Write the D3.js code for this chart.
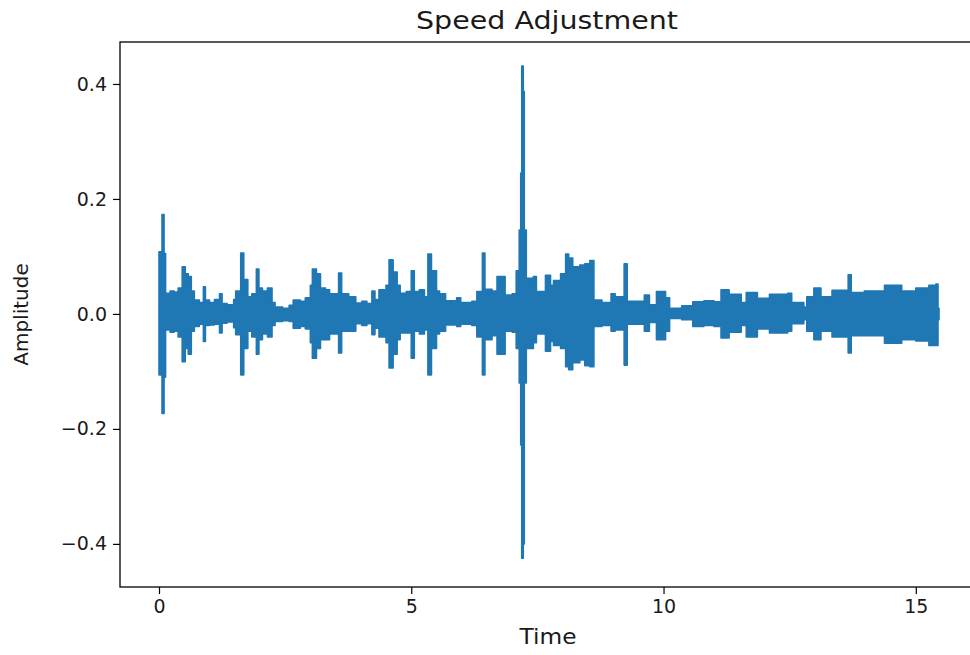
<!DOCTYPE html>
<html>
<head>
<meta charset="utf-8">
<script src="https://cdn.jsdelivr.net/npm/d3@7/dist/d3.min.js"></script>
<style>
  html, body { margin: 0; padding: 0; background: #fff; }
  svg text { font-family: "DejaVu Sans", sans-serif; fill: #1a1a1a; }
</style>
</head>
<body>
<svg id="chart" width="970" height="655"></svg>
<script>
// ---- Data (envelope of the waveform; step-after segments) ----
const times = [0.00,0.06,0.10,0.13,0.22,0.30,0.38,0.46,0.52,0.58,0.64,0.70,0.80,0.88,0.92,1.00,1.10,1.20,1.25,1.35,1.48,1.52,1.62,1.68,1.76,1.84,1.93,1.98,2.05,2.15,2.24,2.30,2.45,2.58,2.66,2.80,2.90,3.00,3.04,3.12,3.20,3.30,3.38,3.56,3.62,3.76,3.90,4.02,4.12,4.22,4.28,4.36,4.50,4.56,4.64,4.72,4.78,4.90,5.00,5.06,5.16,5.26,5.33,5.40,5.50,5.56,5.68,5.90,5.98,6.20,6.30,6.41,6.46,6.60,6.70,6.86,7.00,7.08,7.14,7.17,7.19,7.22,7.24,7.28,7.42,7.48,7.66,7.76,7.82,7.96,8.06,8.12,8.20,8.34,8.44,8.54,8.62,8.78,8.96,9.04,9.22,9.28,9.62,9.72,9.86,10.04,10.12,10.36,10.58,10.80,11.00,11.14,11.30,11.54,11.64,11.86,12.10,12.46,12.54,12.78,12.84,12.98,13.12,13.34,13.66,13.72,13.98,14.38,14.72,15.00,15.26,15.40,15.44,15.46];
const upper = [0.108,0.173,0.105,0.036,0.040,0.038,0.045,0.082,0.070,0.065,0.040,0.024,0.020,0.047,0.024,0.020,0.025,0.035,0.018,0.016,0.025,0.040,0.106,0.060,0.030,0.035,0.078,0.045,0.040,0.045,0.020,0.012,0.010,0.015,0.024,0.022,0.028,0.050,0.078,0.070,0.045,0.042,0.035,0.071,0.035,0.030,0.019,0.022,0.018,0.040,0.025,0.042,0.050,0.094,0.073,0.050,0.036,0.039,0.075,0.039,0.042,0.030,0.104,0.075,0.040,0.035,0.023,0.028,0.020,0.022,0.039,0.106,0.043,0.040,0.065,0.033,0.035,0.075,0.146,0.245,0.431,0.387,0.146,0.062,0.065,0.039,0.067,0.050,0.058,0.070,0.104,0.097,0.082,0.085,0.087,0.093,0.024,0.020,0.035,0.030,0.087,0.022,0.033,0.016,0.039,0.028,0.010,0.014,0.021,0.023,0.021,0.042,0.034,0.020,0.037,0.027,0.034,0.036,0.020,0.012,0.030,0.045,0.030,0.041,0.068,0.037,0.040,0.050,0.040,0.045,0.050,0.052,0.010,0.000];
const lower = [-0.106,-0.173,-0.110,-0.028,-0.032,-0.030,-0.040,-0.083,-0.060,-0.070,-0.030,-0.022,-0.018,-0.048,-0.020,-0.019,-0.018,-0.033,-0.016,-0.014,-0.024,-0.036,-0.106,-0.060,-0.030,-0.040,-0.070,-0.045,-0.035,-0.040,-0.020,-0.013,-0.012,-0.013,-0.025,-0.022,-0.026,-0.050,-0.077,-0.060,-0.045,-0.045,-0.035,-0.068,-0.030,-0.030,-0.017,-0.020,-0.017,-0.036,-0.025,-0.040,-0.050,-0.094,-0.070,-0.045,-0.033,-0.033,-0.077,-0.030,-0.035,-0.028,-0.106,-0.060,-0.035,-0.030,-0.019,-0.022,-0.018,-0.020,-0.040,-0.106,-0.045,-0.038,-0.070,-0.030,-0.032,-0.060,-0.120,-0.228,-0.425,-0.400,-0.120,-0.060,-0.050,-0.035,-0.065,-0.048,-0.055,-0.060,-0.092,-0.097,-0.085,-0.080,-0.090,-0.092,-0.022,-0.020,-0.030,-0.028,-0.089,-0.018,-0.030,-0.015,-0.045,-0.030,-0.008,-0.010,-0.022,-0.020,-0.022,-0.042,-0.032,-0.020,-0.040,-0.026,-0.033,-0.030,-0.017,-0.010,-0.030,-0.045,-0.030,-0.040,-0.068,-0.038,-0.038,-0.051,-0.045,-0.047,-0.055,-0.055,-0.010,0.000];
const xTicks = [0, 5, 10, 15];
const yTicks = [-0.4, -0.2, 0.0, 0.2, 0.4];
const titleText = "Speed Adjustment";
const xLabel = "Time";
const yLabel = "Amplitude";

// ---- Layout ----
const svg = d3.select("#chart");
const L = 120, R = 978, T = 42, B = 587;
const x = d3.scaleLinear().domain([-0.773, 16.233]).range([L, R]);
const y = d3.scaleLinear().domain([-0.475, 0.473]).range([B, T]);
const color = "#1f77b4";

const data = times.map((t, i) => ({ t, hi: upper[i], lo: lower[i] }));

svg.append("clipPath").attr("id", "clip")
  .append("rect").attr("x", L).attr("y", T).attr("width", R - L).attr("height", B - T);

const area = d3.area()
  .x(d => x(d.t))
  .y0(d => y(d.lo))
  .y1(d => y(d.hi))
  .curve(d3.curveStepAfter);

svg.append("path")
  .datum(data)
  .attr("clip-path", "url(#clip)")
  .attr("d", area)
  .attr("fill", color)
  .attr("stroke", color)
  .attr("stroke-width", 1.6)
  .attr("stroke-linejoin", "round");

// ---- Axes ----
const fmtY = v => (v < 0 ? "\u2212" : "") + Math.abs(v).toFixed(1);

const xAxis = d3.axisBottom(x).tickValues(xTicks).tickSize(7).tickPadding(6).tickFormat(d3.format("d"));
const gx = svg.append("g").attr("transform", `translate(0,${B})`).call(xAxis);
gx.select(".domain").remove();
gx.selectAll(".tick line").attr("stroke", "#000").attr("stroke-width", 1.2);
gx.selectAll(".tick text").attr("font-size", 19).attr("fill", "#1a1a1a").attr("font-family", "DejaVu Sans");

const yAxis = d3.axisLeft(y).tickValues(yTicks).tickSize(7).tickPadding(6).tickFormat(fmtY);
const gy = svg.append("g").attr("transform", `translate(${L},0)`).call(yAxis);
gy.select(".domain").remove();
gy.selectAll(".tick line").attr("stroke", "#000").attr("stroke-width", 1.2);
gy.selectAll(".tick text").attr("font-size", 19).attr("fill", "#1a1a1a").attr("font-family", "DejaVu Sans");

// spines
svg.append("rect").attr("x", L).attr("y", T).attr("width", R - L).attr("height", B - T)
  .attr("fill", "none").attr("stroke", "#000").attr("stroke-width", 1.3);

// ---- Labels ----
svg.append("text").attr("x", 547).attr("y", 29).attr("text-anchor", "middle")
  .attr("font-size", 25).attr("textLength", 262).attr("lengthAdjust", "spacingAndGlyphs")
  .text(titleText);
svg.append("text").attr("x", 548).attr("y", 644).attr("text-anchor", "middle")
  .attr("font-size", 21).attr("textLength", 57).attr("lengthAdjust", "spacingAndGlyphs")
  .text(xLabel);
svg.append("text").attr("transform", `translate(28,${(T + B) / 2}) rotate(-90)`)
  .attr("text-anchor", "middle").attr("font-size", 20).text(yLabel);
</script>
</body>
</html>
